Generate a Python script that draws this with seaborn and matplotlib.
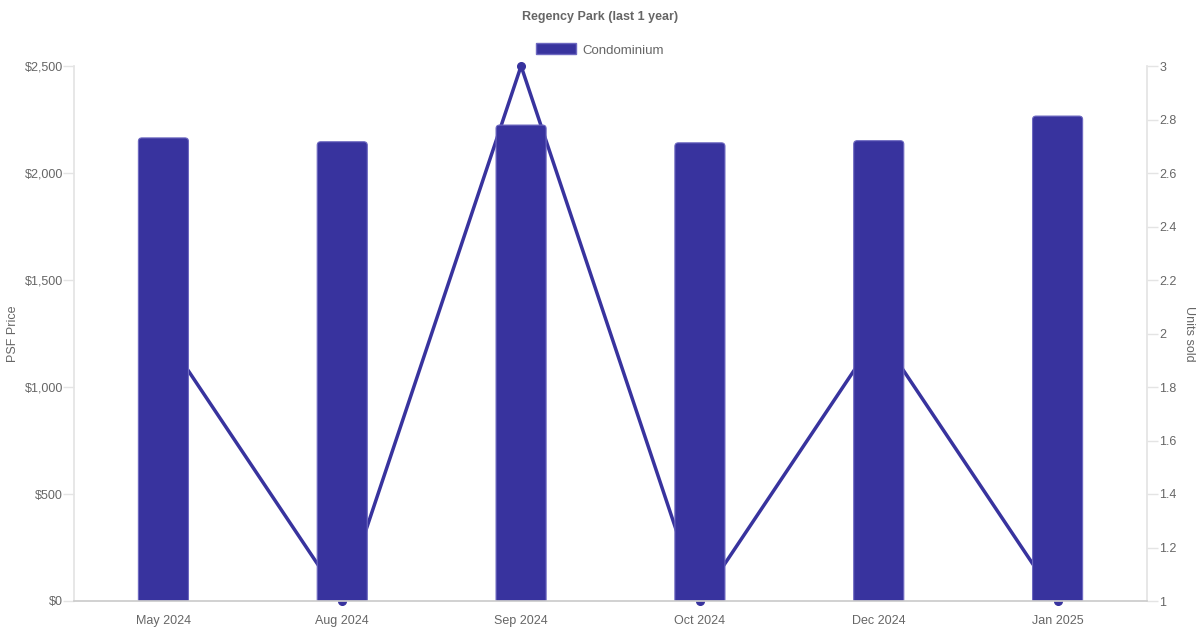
import numpy as np
import pandas as pd
import matplotlib
matplotlib.use('Agg')
import matplotlib.pyplot as plt
import seaborn as sns
from matplotlib.patches import Patch, FancyBboxPatch

months = ['May 2024', 'Aug 2024', 'Sep 2024', 'Oct 2024', 'Dec 2024', 'Jan 2025']
psf_price = [2164, 2146, 2224, 2141, 2151, 2266]
units_sold = [2, 1, 3, 1, 2, 1]

bar_color = '#38339e'
edge_color = '#6d68c0'
text_color = '#666666'
grid_color = '#e4e4e4'

sns.set_theme(style='white')
plt.rcParams['font.family'] = ['Liberation Sans', 'DejaVu Sans']

dat = pd.DataFrame({'month': months, 'psf': psf_price, 'units': units_sold})

fig = plt.figure(figsize=(12, 6.3), dpi=100)
ax = fig.add_axes([74 / 1200, 1 - 601 / 630, (1147 - 74) / 1200, (601 - 66) / 630])
ax2 = ax.twinx()

# bars on top of the line, like the original
ax.set_zorder(ax2.get_zorder() + 1)
ax.patch.set_visible(False)

sns.barplot(data=dat, x='month', y='psf', color=bar_color, width=0.28,
            saturation=1, edgecolor=edge_color, linewidth=0.8, ax=ax)
ax.set_xlim(-0.5, len(months) - 0.5)
ax.set_ylim(0, 2500)

# rounded top corners: swap each bar for a rounded box that starts below zero
px_x = ax.get_position().width * 1200 / len(months)
px_y = ax.get_position().height * 630 / 2500
r = 3.5 / px_x
aspect = (3.5 / px_y) / r
for p in list(ax.patches):
    x0, w, h = p.get_x(), p.get_width(), p.get_height()
    rb = FancyBboxPatch((x0, -3.5 / px_y * 2), w, h + 3.5 / px_y * 2,
                        boxstyle='round,pad=0,rounding_size={}'.format(r),
                        mutation_aspect=aspect, facecolor=bar_color,
                        edgecolor=edge_color, linewidth=0.8)
    p.remove()
    ax.add_patch(rb)

ax.set_yticks(np.arange(0, 2501, 500))
ax.set_yticklabels(['${:,}'.format(v) for v in range(0, 2501, 500)])

ax2.plot(range(len(months)), units_sold, color=bar_color, linewidth=2.5,
         marker='o', markersize=5.5, clip_on=False)
ax2.set_ylim(1, 3)
ax2.set_yticks(np.arange(1, 3.01, 0.2))
ax2.set_yticklabels(['{:g}'.format(round(v, 1)) for v in np.arange(1, 3.01, 0.2)])
# horizontal grid under everything, at the left axis ticks
ax2.set_yticks(np.arange(1, 3.01, 0.4), minor=True)
ax2.grid(which='minor', axis='y', color=grid_color, linewidth=1)
ax2.grid(which='major', visible=False)
ax2.tick_params(which='minor', length=0)
ax.grid(False)

for a in (ax, ax2):
    for s in a.spines.values():
        s.set_visible(False)
    a.tick_params(axis='both', colors=grid_color, labelcolor=text_color,
                  labelsize=9, length=8, width=1, pad=1)
ax.tick_params(axis='y', pad=0)
ax.spines['left'].set_visible(True)
ax.spines['left'].set_color(grid_color)
ax.spines['bottom'].set_visible(True)
ax.spines['bottom'].set_color('#cccccc')
ax2.spines['right'].set_visible(True)
ax2.spines['right'].set_color(grid_color)
ax.tick_params(axis='x', length=0, pad=10)

ax.set_xlabel('')
ax.set_ylabel('PSF Price', color=text_color, fontsize=9)
ax2.set_ylabel('Units sold', color=text_color, fontsize=9, rotation=-90)
ax.yaxis.set_label_coords(-55 / 1073, 0.5)
ax2.yaxis.set_label_coords(1 + 48 / 1073, 0.5)

fig.text(0.5, 1 - 17 / 630, 'Regency Park (last 1 year)', ha='center', va='center',
         fontsize=9, fontweight='bold', color=text_color)
fig.legend(handles=[Patch(facecolor=bar_color, edgecolor=edge_color, label='Condominium')],
           loc='center', bbox_to_anchor=(0.5, 1 - 50 / 630), frameon=False,
           fontsize=9.5, labelcolor=text_color, handlelength=3.0, handleheight=0.9,
           handletextpad=0.5)

fig.savefig('out.png', dpi=100)
